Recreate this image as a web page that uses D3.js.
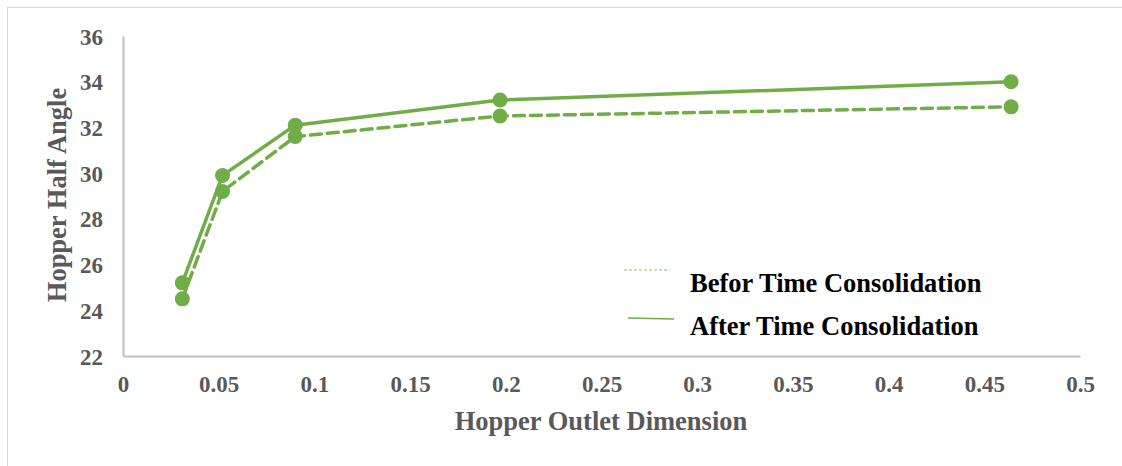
<!DOCTYPE html>
<html>
<head>
<meta charset="utf-8">
<script src="https://cdn.jsdelivr.net/npm/d3@7"></script>
<style>
  html, body { margin: 0; padding: 0; background: #fff; }
  svg { display: block; }
</style>
</head>
<body>
<svg id="chart" width="1122" height="466"></svg>
<script>
// Hopper outlet dimension (x) and the corresponding hopper half angle
const outletDim = [0.031, 0.052, 0.090, 0.197, 0.464];
const beforeConsolidation = [24.5, 29.2, 31.6, 32.5, 32.9];
const afterConsolidation = [25.2, 29.9, 32.1, 33.2, 34.0];
const xTicks = [0, 0.05, 0.1, 0.15, 0.2, 0.25, 0.3, 0.35, 0.4, 0.45, 0.5];
const yTicks = [22, 24, 26, 28, 30, 32, 34, 36];
const seriesNames = ["Befor Time Consolidation", "After Time Consolidation"];

const svg = d3.select("#chart");
const green = "#70AD47";
const tickGray = "#595959";
const serif = "'Liberation Serif', 'Times New Roman', serif";

// chart area frame
svg.append("rect")
  .attr("x", 7.5).attr("y", 7.5)
  .attr("width", 1130).attr("height", 470)
  .attr("fill", "none").attr("stroke", "#d9d9d9").attr("stroke-width", 1);

const x = d3.scaleLinear().domain([0, 0.5]).range([123, 1080]);
const y = d3.scaleLinear().domain([22, 36]).range([356, 36]);

// axes
const xAxis = svg.append("g")
  .attr("transform", `translate(0,${y(22)})`)
  .call(d3.axisBottom(x).tickValues(xTicks).tickSize(0).tickPadding(19)
    .tickFormat(d => d === 0 ? "0" : String(+d.toFixed(2))));
const yAxis = svg.append("g")
  .attr("transform", `translate(${x(0)},0)`)
  .call(d3.axisLeft(y).tickValues(yTicks).tickSize(0).tickPadding(20));

[xAxis, yAxis].forEach(g => {
  g.select(".domain").attr("stroke", "#bfbfbf").attr("stroke-width", 2);
  g.selectAll("text")
    .attr("fill", tickGray)
    .style("font-family", serif)
    .style("font-weight", "bold")
    .style("font-size", "23px");
});
xAxis.selectAll("text").attr("dy", null).attr("y", 36);
yAxis.selectAll("text").attr("dy", "0.35em");

// axis titles
svg.append("text")
  .attr("x", 601).attr("y", 430)
  .attr("text-anchor", "middle")
  .attr("fill", tickGray)
  .style("font-family", serif).style("font-weight", "bold").style("font-size", "26.5px")
  .text("Hopper Outlet Dimension");

svg.append("text")
  .attr("transform", "translate(66,195) rotate(-90)")
  .attr("text-anchor", "middle")
  .attr("fill", tickGray)
  .style("font-family", serif).style("font-weight", "bold").style("font-size", "26.5px")
  .text("Hopper Half Angle");

// series
const line = d3.line().x(d => x(d[0])).y(d => y(d[1]));
const series = [
  { values: beforeConsolidation, dash: "11,6" },
  { values: afterConsolidation, dash: null }
];

series.forEach(s => {
  const pts = outletDim.map((d, i) => [d, s.values[i]]);
  svg.append("path")
    .datum(pts)
    .attr("d", line)
    .attr("fill", "none")
    .attr("stroke", green)
    .attr("stroke-width", 3.5)
    .attr("stroke-linecap", s.dash ? "round" : "butt")
    .attr("stroke-linejoin", "round")
    .attr("stroke-dasharray", s.dash);
  svg.append("g").selectAll("circle")
    .data(pts)
    .join("circle")
    .attr("cx", d => x(d[0]))
    .attr("cy", d => y(d[1]))
    .attr("r", 7.5)
    .attr("fill", green);
});

// legend
const legend = svg.append("g");
const legendRows = [
  { name: seriesNames[0], dash: "3,2", width: 1.2, color: "#8fc46a", lx: 624, ly: 270, ty: 292 },
  { name: seriesNames[1], dash: null, width: 1.5, color: "#70AD47", lx: 628, ly: 318, ty: 335 }
];
legendRows.forEach(r => {
  legend.append("line")
    .attr("x1", r.lx).attr("x2", r.lx + 46)
    .attr("y1", r.ly).attr("y2", r.ly + (r.dash ? 0 : 1))
    .attr("stroke", r.color)
    .attr("stroke-width", r.width)
    .attr("stroke-dasharray", r.dash);
  legend.append("text")
    .attr("x", 690).attr("y", r.ty)
    .attr("fill", "#000")
    .style("font-family", serif).style("font-weight", "bold").style("font-size", "26.5px")
    .text(r.name);
});
</script>
</body>
</html>
